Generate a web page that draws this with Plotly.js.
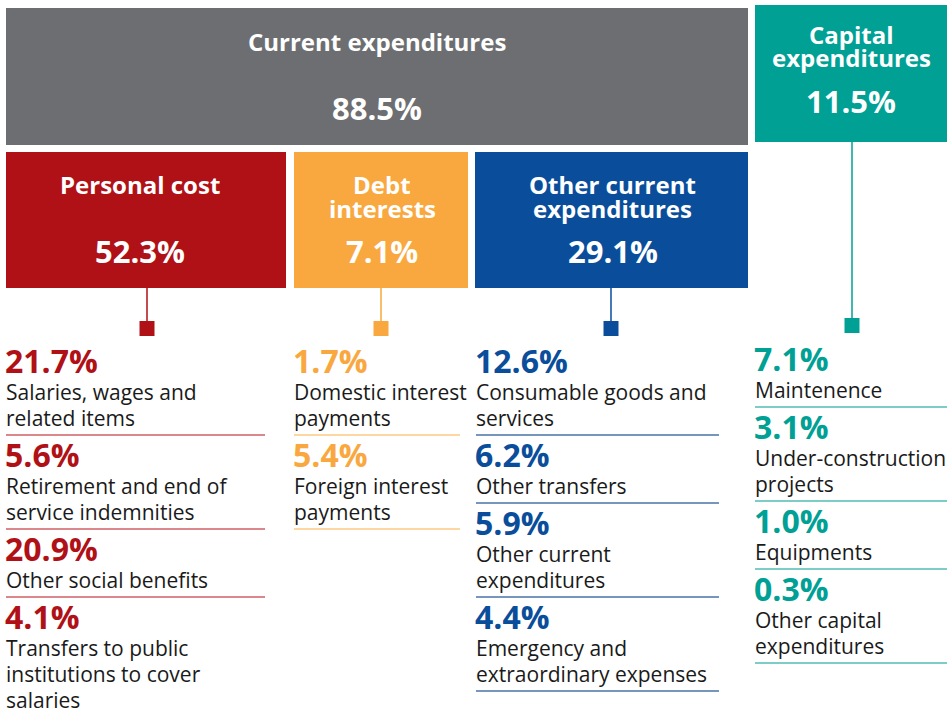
<!DOCTYPE html>
<html>
<head>
<meta charset="utf-8">
<script src="https://cdn.plot.ly/plotly-3.0.1.min.js"></script>
<style>html,body{margin:0;padding:0;background:#fff}#chart{width:947px;height:714px}</style>
</head>
<body>
<div id="chart"></div>
<script>
// ---- data ----
const topCats = ['Current expenditures', 'Capital<br>expenditures'];
const topVals = [88.5, 11.5];
const subCats = ['Personal cost', 'Debt<br>interests', 'Other current<br>expenditures'];
const subVals = [52.3, 7.1, 29.1];

const personalItems = ['Salaries, wages and<br>related items', 'Retirement and end of<br>service indemnities', 'Other social benefits', 'Transfers to public<br>institutions to cover<br>salaries'];
const personalVals = [21.7, 5.6, 20.9, 4.1];
const debtItems = ['Domestic interest<br>payments', 'Foreign interest<br>payments'];
const debtVals = [1.7, 5.4];
const otherItems = ['Consumable goods and<br>services', 'Other transfers', 'Other current<br>expenditures', 'Emergency and<br>extraordinary expenses'];
const otherVals = [12.6, 6.2, 5.9, 4.4];
const capitalItems = ['Maintenence', 'Under-construction<br>projects', 'Equipments', 'Other capital<br>expenditures'];
const capitalVals = [7.1, 3.1, 1.0, 0.3];

// ---- styles / layout ----
const GREY = '#6d6e71', TEAL = '#00a095', RED = '#b01117', ORANGE = '#f9a83f', BLUE = '#0a4e9b';
const FONT = 'Open Sans, Noto Sans, sans-serif';
const shapes = [];
const ann = [];

function rect(x0, y0, x1, y1, color) {
  shapes.push({type: 'rect', xref: 'x', yref: 'y', x0, y0, x1, y1, fillcolor: color, line: {width: 0}, layer: 'below'});
}
function line(x0, y0, x1, y1, color, w) {
  shapes.push({type: 'line', xref: 'x', yref: 'y', x0, y0, x1, y1, line: {color, width: w}});
}
function text(x, y, t, size, color, bold, xanchor) {
  ann.push({xref: 'x', yref: 'y', x, y, text: bold ? '<b>' + t + '</b>' : t, showarrow: false,
    xanchor: xanchor || 'center', yanchor: 'middle', font: {family: FONT, size, color}});
}
function multiline(x, yFirst, t, step, size, color, bold, xanchor) {
  t.split('<br>').forEach((s, i) => text(x, yFirst + i * step, s, size, color, bold, xanchor));
}
const fmt = v => v.toFixed(1) + '%';

// top boxes
const topBoxes = [[6, 8, 748, 145, GREY, 41, 108], [755, 5, 947, 142, TEAL, 34, 101]];
topBoxes.forEach((b, i) => {
  rect(b[0], b[1], b[2], b[3], b[4]);
  const cx = (b[0] + b[2]) / 2;
  multiline(cx, b[5], topCats[i], 23, 24, '#fff', true);
  text(cx, b[6], fmt(topVals[i]), 31, '#fff', true);
});

// sub boxes
const subBoxes = [[6, 286, RED, -6], [294, 468, ORANGE, 1], [475, 748, BLUE, 1]];
subBoxes.forEach((b, i) => {
  rect(b[0], 152, b[1], 288, b[2]);
  const cx = (b[0] + b[1]) / 2 + b[3];
  multiline(cx, 184, subCats[i], 24, 24, '#fff', true);
  text(cx, 251, fmt(subVals[i]), 31, '#fff', true);
});

// connectors
function connector(cx, yTop, ySq, color) {
  line(cx, yTop, cx, ySq, color, 1.5);
  rect(cx - 7.5, ySq, cx + 7.5, ySq + 15, color);
}
connector(147, 288, 321, RED);
connector(381, 288, 321, ORANGE);
connector(611, 288, 321, BLUE);
connector(852, 142, 318, TEAL);

// lists
function list(items, vals, x, x1, yStart, color, divColor) {
  let y = yStart;
  items.forEach((it, i) => {
    text(x - 3, y, fmt(vals[i]), 32, color, true, 'left');
    const n = it.split('<br>').length;
    multiline(x - 2, y + 32, it, 26, 21, '#1a1a1a', false, 'left');
    const dy = y + 32 + (n - 1) * 26 + 17;
    line(x, dy, x1, dy, divColor, 1.5);
    y = dy + 19;
  });
}
list(personalItems, personalVals, 6, 265, 360, RED, '#cf5f66');
list(debtItems, debtVals, 294, 460, 360, ORANGE, '#fcc882');
list(otherItems, otherVals, 476, 719, 360, BLUE, '#4a73a8');
list(capitalItems, capitalVals, 755, 947, 358, TEAL, '#52bdb4');

const layout = {
  width: 947, height: 714,
  margin: {l: 0, r: 0, t: 0, b: 0},
  paper_bgcolor: '#fff', plot_bgcolor: '#fff',
  xaxis: {range: [0, 947], visible: false, fixedrange: true},
  yaxis: {range: [714, 0], visible: false, fixedrange: true},
  showlegend: false,
  shapes, annotations: ann
};
Plotly.newPlot('chart', [{x: [], y: [], type: 'scatter'}], layout, {displayModeBar: false, staticPlot: true});
</script>
</body>
</html>
